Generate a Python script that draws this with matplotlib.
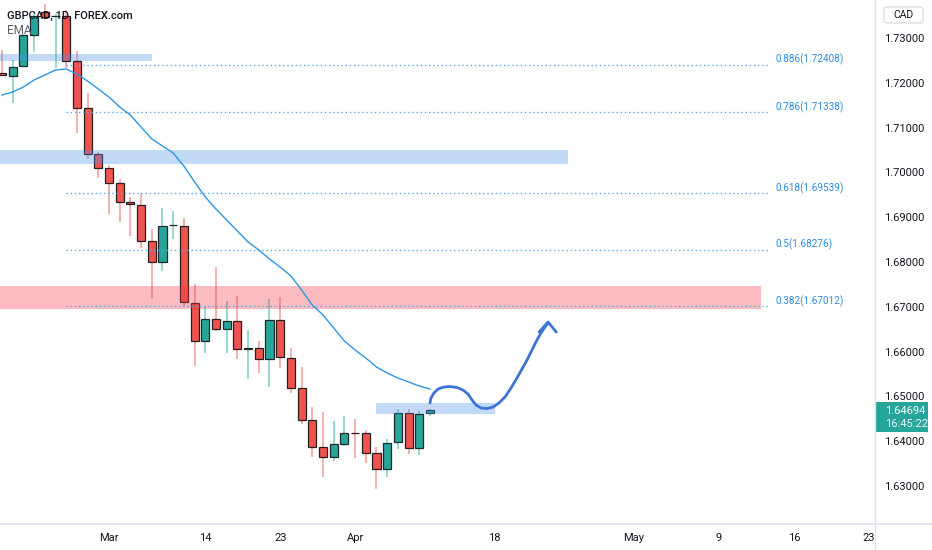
import matplotlib
matplotlib.use('Agg')
import matplotlib.pyplot as plt
import numpy as np
import pandas as pd
from matplotlib.patches import FancyBboxPatch, Rectangle
from matplotlib.transforms import offset_copy
from matplotlib.lines import Line2D

plt.rcParams['font.family'] = ['Roboto', 'DejaVu Sans']

# ---------------- data ----------------
bar_dates = pd.bdate_range('2022-02-15', '2022-04-12')

opens = [1.72208, 1.72152, 1.72375, 1.73067, 1.73580, 1.73480, 1.73491, 1.72487, 1.71438, 1.70411,
         1.70098, 1.69763, 1.69339, 1.69272, 1.68469, 1.67999, 1.68815, 1.68804, 1.67085, 1.66237,
         1.66728, 1.66504, 1.66683, 1.66069, 1.66080, 1.65835, 1.66705, 1.65857, 1.65187, 1.64473,
         1.63871, 1.63647, 1.63938, 1.64194, 1.64183, 1.63737, 1.63379, 1.63982, 1.64629, 1.63848,
         1.64629]
highs = [1.72732, 1.72509, 1.73089, 1.73558, 1.73759, 1.73536, 1.73627, 1.72710, 1.71772, 1.70455,
         1.70165, 1.69853, 1.69451, 1.69540, 1.68737, 1.69205, 1.69138, 1.68982, 1.67509, 1.67018,
         1.67888, 1.67129, 1.67241, 1.66482, 1.66237, 1.67174, 1.67219, 1.66080, 1.65656, 1.64763,
         1.64652, 1.64451, 1.64563, 1.64496, 1.64250, 1.63871, 1.64049, 1.64719, 1.64719, 1.64674,
         1.64719]
lows = [1.72152, 1.71549, 1.72353, 1.72688, 1.73424, 1.72330, 1.72330, 1.70879, 1.70299, 1.69875,
        1.69071, 1.68893, 1.68580, 1.68313, 1.67174, 1.67799, 1.68513, 1.67018, 1.65679, 1.65969,
        1.66460, 1.65969, 1.65835, 1.65388, 1.65522, 1.65210, 1.65634, 1.65076, 1.64384, 1.63647,
        1.63201, 1.63558, 1.63893, 1.63625, 1.63513, 1.62924, 1.63201, 1.63826, 1.63714, 1.63692,
        1.64563]
closes = [1.72163, 1.72353, 1.73067, 1.73491, 1.73469, 1.73496, 1.72487, 1.71438, 1.70411, 1.70098,
          1.69763, 1.69339, 1.69295, 1.68469, 1.67999, 1.68804, 1.68826, 1.67107, 1.66237, 1.66728,
          1.66504, 1.66683, 1.66058, 1.66080, 1.65835, 1.66705, 1.65879, 1.65187, 1.64473, 1.63871,
          1.63647, 1.63938, 1.64183, 1.64172, 1.63737, 1.63379, 1.63960, 1.64629, 1.63848, 1.64607,
          1.64694]
ema_values = [1.71728, 1.71795, 1.71906, 1.72063, 1.72174, 1.72286, 1.72308, 1.72196, 1.72040, 1.71862,
              1.71683, 1.71460, 1.71281, 1.71013, 1.70746, 1.70589, 1.70433, 1.70143, 1.69786, 1.69451,
              1.69183, 1.68938, 1.68692, 1.68446, 1.68268, 1.68067, 1.67888, 1.67688, 1.67375, 1.67040,
              1.66817, 1.66527, 1.66237, 1.66036, 1.65857, 1.65656, 1.65522, 1.65411, 1.65321, 1.65232,
              1.65165]

fib_ratios = ['0.886', '0.786', '0.618', '0.5', '0.382']
fib_prices = [1.72408, 1.71338, 1.69539, 1.68276, 1.67012]
fib_start_slot = 6
fib_end_slot = 71.8

# zones: (slot_start, slot_end, price_low, price_high)
blue_zones = [(-1, 14.0, 1.72487, 1.72643),
              (-1, 52.9, 1.70188, 1.70500),
              (34.95, 46.07, 1.64607, 1.64853)]
red_zones = [(-1, 70.9, 1.66951, 1.67464)]

# hand drawn projection (slot, price)
path_slots = [40.0, 40.09, 40.37, 40.75, 41.31, 41.87, 42.52, 43.08, 43.55, 43.93, 44.30, 44.77,
              45.33, 45.89, 46.45, 47.01, 47.57, 48.13, 48.60, 49.07, 49.53, 50.00, 50.37, 50.75, 51.03]
path_prices = [1.64853, 1.64964, 1.65076, 1.65165, 1.65210, 1.65221, 1.65199, 1.65143, 1.65054,
               1.64920, 1.64808, 1.64741, 1.64730, 1.64763, 1.64853, 1.64987, 1.65187, 1.65411,
               1.65612, 1.65813, 1.66036, 1.66259, 1.66415, 1.66549, 1.66638]
arrow_slots = [50.2, 51.03, 51.8]
arrow_prices = [1.66437, 1.66661, 1.66437]

tick_dates = ['2022-03-01', '2022-03-14', '2022-03-23', '2022-04-01', '2022-04-18',
              '2022-05-01', '2022-05-09', '2022-05-16', '2022-05-23']
tick_labels = ['Mar', '14', '23', 'Apr', '18', 'May', '9', '16', '23']
price_ticks = [1.63, 1.64, 1.65, 1.66, 1.67, 1.68, 1.69, 1.70, 1.71, 1.72, 1.73]
last_price = '1.64694'
countdown = '16:45:22'

# ---------------- slot mapping ----------------
n = len(opens)
last_date = bar_dates[-1]
def date_to_slot(d):
    d = pd.Timestamp(d)
    if d <= last_date:
        return int(np.searchsorted(bar_dates, d))
    return (n - 1) + (d - last_date).days

x = np.arange(n)
o = np.array(opens); h = np.array(highs); l = np.array(lows); c = np.array(closes)
up = c >= o

W, H = 932, 550
fig = plt.figure(figsize=(W / 100, H / 100), dpi=100)
fig.patch.set_facecolor('white')
ax = fig.add_axes([0, 26 / H, 875 / W, 524 / H])
ax.set_facecolor('white')

green = '#26a69a'
red = '#ef5350'
wick_green = '#7ccdc4'
wick_red = '#f49a98'

# wicks
ax.vlines(x[up], l[up], h[up], color=wick_green, lw=1.1, zorder=2)
ax.vlines(x[~up], l[~up], h[~up], color=wick_red, lw=1.1, zorder=2)
# bodies
body_bottom = np.minimum(o, c)
body_height = np.maximum(np.abs(c - o), 0.00004)
ax.bar(x[up], body_height[up], bottom=body_bottom[up], width=0.75, color=green,
       edgecolor='#1f2a2a', linewidth=0.9, zorder=3)
ax.bar(x[~up], body_height[~up], bottom=body_bottom[~up], width=0.75, color=red,
       edgecolor='#2a1f1f', linewidth=0.9, zorder=3)

# zones
for (s0, s1, p0, p1) in blue_zones:
    ax.add_patch(Rectangle((s0, p0), s1 - s0, p1 - p0, facecolor='#4a8fe8', alpha=0.33,
                           edgecolor='none', zorder=4))
for (s0, s1, p0, p1) in red_zones:
    ax.add_patch(Rectangle((s0, p0), s1 - s0, p1 - p0, facecolor='#f23645', alpha=0.33,
                           edgecolor='none', zorder=4))

# fib levels
lab_trans = offset_copy(ax.transData, fig=fig, x=0, y=5, units='dots')
for r, p in zip(fib_ratios, fib_prices):
    ax.plot([fib_start_slot, fib_end_slot], [p, p], color='#5aa9ec', lw=1.0,
            linestyle=(0, (1, 2)), zorder=5)
    ax.text(72.25, p, f'{r}({p:.5f})', transform=lab_trans, color='#2f8ce0',
            fontsize=7.2, va='center', ha='left', zorder=6)

# EMA
ax.plot(x, ema_values, color='#2d95e6', lw=1.0, zorder=5)

# projection path
ax.plot(path_slots, path_prices, color='#3f74d6', lw=2.0, zorder=6,
        solid_capstyle='round', solid_joinstyle='round')
ax.plot(arrow_slots, arrow_prices, color='#3f74d6', lw=2.0, zorder=6,
        solid_capstyle='round', solid_joinstyle='round')

# axes limits
ax.set_xlim(-0.187, 81.59)
ax.set_ylim(1.621518, 1.738482)

for s in ax.spines.values():
    s.set_visible(False)

ax.set_xticks([date_to_slot(d) for d in tick_dates])
ax.set_xticklabels(tick_labels)
ax.set_yticks(price_ticks)
ax.set_yticklabels([f'{p:.5f}' for p in price_ticks])
ax.yaxis.tick_right()
ax.tick_params(axis='y', length=0, pad=6.5, labelsize=8, labelcolor='#131722')
ax.tick_params(axis='x', length=0, pad=6.5, labelsize=8, labelcolor='#131722')

# axis borders
fig.add_artist(Line2D([0, 1], [26 / H, 26 / H], transform=fig.transFigure,
                      color='#e0e3eb', lw=1.2))
fig.add_artist(Line2D([875 / W, 875 / W], [0, 1], transform=fig.transFigure,
                      color='#e0e3eb', lw=1.0))

# title / legend
fig.text(7 / W, 1 - 16 / H, 'GBPCAD, 1D, FOREX.com', fontsize=8, fontweight='medium',
         color='#131722', va='center', ha='left', zorder=10)
fig.text(7 / W, 1 - 31 / H, 'EMA', fontsize=8.5, color='#5d606b', va='center', ha='left',
         zorder=10)

# CAD box
fig.add_artist(FancyBboxPatch((884 / W, 1 - 23 / H), 39 / W, 16 / H,
                              boxstyle='round,pad=0,rounding_size=0.004',
                              transform=fig.transFigure, facecolor='white',
                              edgecolor='#d1d4dc', lw=0.8))
fig.text(903.5 / W, 1 - 15 / H, 'CAD', fontsize=7.5, color='#131722', ha='center', va='center')

# last price label
fig.add_artist(Rectangle((875 / W, 1 - 432 / H), 53 / W, 30 / H, transform=fig.transFigure,
                         facecolor='#26a69a', edgecolor='none'))
fig.text(885 / W, 1 - 410.5 / H, last_price, fontsize=8, color='white', ha='left', va='center')
fig.text(885 / W, 1 - 424 / H, countdown, fontsize=8, color='#e6f6f4', ha='left', va='center')

fig.savefig('out.png', dpi=100)
